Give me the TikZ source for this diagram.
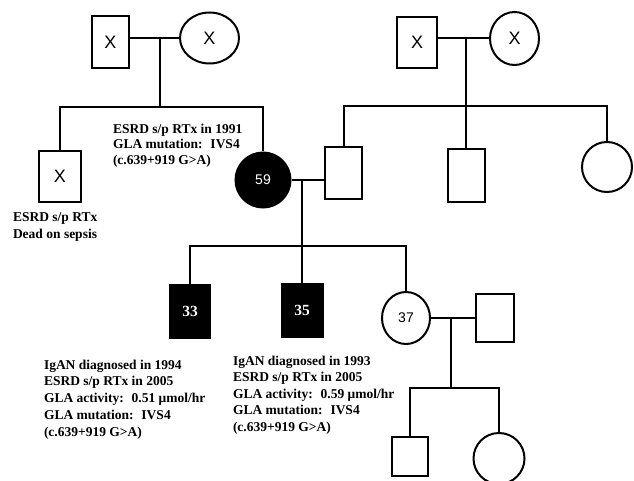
\documentclass[tikz,border=0pt]{standalone}
\usepackage{fontspec}
\setmainfont{Liberation Serif}
\newfontfamily\pedsans{Liberation Sans}
\usetikzlibrary{shapes.geometric}
\begin{document}
\begin{tikzpicture}[x=1pt,y=-1pt,line width=2pt,
  male/.style={draw, rectangle, inner sep=0pt, font=\pedsans\fontsize{18}{18}\selectfont},
  female/.style={draw, ellipse, inner sep=0pt, font=\pedsans\fontsize{18}{18}\selectfont},
  affsans/.style={fill=black, text=white, font=\pedsans\fontsize{14}{14}\selectfont},
  affserif/.style={fill=black, text=white, font=\bfseries\fontsize{15.5}{15.5}\selectfont},
  agelbl/.style={font=\pedsans\fontsize{14}{14}\selectfont},
  lbl/.style={align=left, anchor=north west, inner sep=0pt}]
\useasboundingbox (0,0) rectangle (634,481);
% generation I
\node[male, minimum width=37, minimum height=52] (gf1) at (110.5,42) {X};
\node[female, minimum width=59, minimum height=51] (gm1) at (209.5,38) {X};
\node[male, minimum width=40, minimum height=51] (gf2) at (417,42.5) {X};
\node[female, minimum width=49, minimum height=53] (gm2) at (514.5,38.5) {X};
% generation II
\node[male, minimum width=42, minimum height=51] (uncle) at (60,176.5) {X};
\node[female, affsans, minimum width=55, minimum height=55] (p59) at (263,180) {59};
\node[male, minimum width=37, minimum height=52] (h1) at (343.5,173) {};
\node[male, minimum width=37, minimum height=53] (u2) at (466,175.5) {};
\node[female, minimum width=50, minimum height=50] (a3) at (607,167) {};
% generation III
\node[male, affserif, minimum width=40, minimum height=53] (c33) at (190,311) {33};
\node[male, affserif, minimum width=41, minimum height=53] (c35) at (302,310.5) {35};
\node[female, agelbl, minimum width=48, minimum height=52] (c37) at (406,318) {37};
\node[male, minimum width=38, minimum height=48] (h37) at (495,318) {};
% generation IV
\node[male, minimum width=36, minimum height=39] (g1) at (410,456) {};
\node[female, minimum width=51, minimum height=51] (g2) at (499,458.5) {};
% connectors
\coordinate (m1) at (160,38); \coordinate (s1) at (160,107);
\draw (gf1.east |- m1) -- (gm1.west |- m1);
\draw (m1) -- (s1);
\draw (uncle.north) |- (s1) -| (p59.north);
\coordinate (m2) at (466,38); \coordinate (s2) at (466,106);
\draw (gf2.east |- m2) -- (gm2.west |- m2);
\draw (m2) -- (s2);
\draw (h1.north) |- (s2) -| (a3.north);
\draw (s2) -- (u2.north);
\coordinate (m3) at (302,180); \coordinate (s3) at (302,246);
\draw (p59.east) -- (h1.west |- p59.east);
\draw (m3) -- (s3);
\draw (c33.north) |- (s3) -| (c37.north);
\draw (s3) -- (c35.north);
\coordinate (m4) at (451,318); \coordinate (s4) at (451,388);
\draw (c37.east) -- (h37.west |- c37.east);
\draw (m4) -- (s4);
\draw (g1.north) |- (s4) -| (g2.north);
% labels
\node[lbl, font=\bfseries\fontsize{13.5}{15.5}\selectfont] (t1) at (112,122.7)
  {ESRD s/p RTx in 1991\\GLA mutation: \ IVS4\\(c.639+919 G>A)};
\node[lbl, font=\bfseries\fontsize{13.5}{17}\selectfont] (t2) at (12,211.7)
  {ESRD s/p RTx\\Dead on sepsis};
\node[lbl, font=\bfseries\fontsize{13.5}{16.75}\selectfont] (t3) at (43,358.7)
  {IgAN diagnosed in 1994\\ESRD s/p RTx in 2005\\GLA activity: \ 0.51 μmol/hr\\GLA mutation: \ IVS4\\(c.639+919 G>A)};
\node[lbl, font=\bfseries\fontsize{13.5}{16.5}\selectfont] (t4) at (232,354.8)
  {IgAN diagnosed in 1993\\ESRD s/p RTx in 2005\\GLA activity: \ 0.59 μmol/hr\\GLA mutation: \ IVS4\\(c.639+919 G>A)};
\end{tikzpicture}
\end{document}
